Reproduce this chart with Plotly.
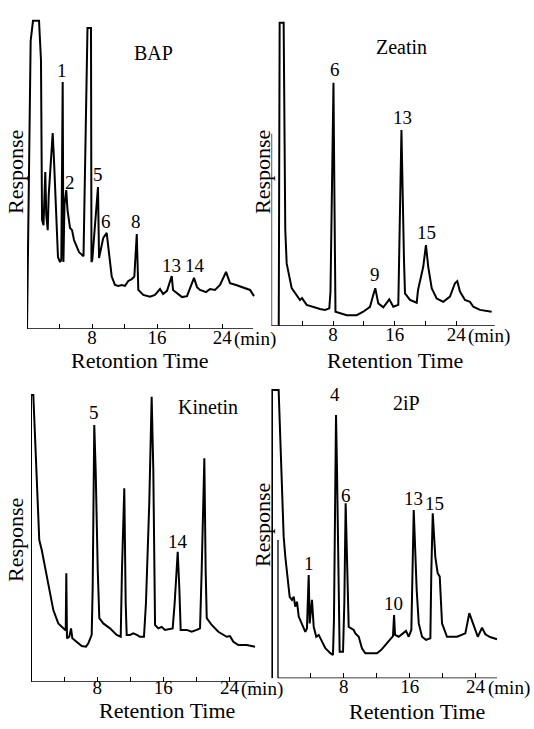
import plotly.graph_objects as go

W, H = 534, 729
FONT = "Liberation Serif"

# ---------------- data (retention time in min, response in % of panel height) -------------
bap_time = [0, 0.45, 0.74, 1.48, 1.72, 1.85, 2.03, 2.25, 2.37, 2.55,
            2.67, 2.89, 3.16, 3.32, 3.51, 3.69, 3.81, 4.06, 4.22, 4.39,
            4.48, 4.61, 4.83, 4.98, 5.29, 5.54, 5.78, 6.03, 6.4, 6.95,
            7.13, 7.44, 7.87, 7.93, 8.03, 8.36, 8.73, 8.86, 9.04, 9.38,
            9.8, 10.09, 10.42, 10.82, 11.23, 11.65, 12.05, 12.46, 12.88, 13.2,
            13.5, 13.69, 14.3, 15.13, 15.74, 16.36, 16.73, 17.22, 17.8, 17.96,
            18.45, 19.07, 19.68, 20.17, 20.54, 20.91, 21.28, 22.02, 22.51, 23.12,
            23.74, 24.48, 24.97, 25.71, 26.94, 27.43, 27.92]
bap_resp = [0, 93, 99.4, 99.4, 86.8, 35.2, 33.5, 50.6, 36.8, 31.9,
            43.2, 52.9, 63.2, 54.5, 43.2, 32.9, 23.2, 21.6, 22.3, 79.7,
            21.6, 40, 44.8, 38.4, 32.6, 31.9, 28.7, 27.1, 24.8, 23.5,
            48, 97.1, 97.1, 21.6, 22.3, 33.5, 45.8, 22.9, 25.5, 29.4,
            31, 24.5, 16.9, 14.2, 13.9, 14.2, 13.9, 15.5, 16.1, 16.9,
            30.6, 12.6, 11, 10.4, 11, 12.9, 11.3, 12.3, 17.1, 12.6,
            11.6, 10.3, 10.6, 14.2, 16.5, 13.5, 12.6, 11.9, 12.9, 12.6,
            14.2, 18.4, 14.8, 14.2, 13.2, 12.6, 10.6]

zeatin_time = [0.94, 1.06, 1.58, 1.66, 1.79, 1.97, 2.62, 3.70, 3.96, 4.57,
               5.43, 6.30, 6.95, 7.51, 7.66, 8.05, 8.18, 8.31, 9.77, 11.06,
               11.92, 12.79, 13.18, 13.48, 13.87, 14.52, 15.30, 15.82, 16.47, 16.88,
               17.21, 17.34, 17.99, 18.86, 19.03, 19.29, 19.71, 20.06, 20.36, 20.81,
               21.45, 22.31, 23.18, 23.83, 24.13, 24.48, 25.13, 25.78, 26.21, 27.08,
               28.60]
zeatin_resp = [0, 97.8, 97.8, 62.3, 31, 20.2, 12.2, 8.4, 9, 6.8,
               6.1, 5.5, 5.2, 5.7, 11, 78.5, 40, 4.6, 3.5, 3.5,
               4.6, 6.2, 9.7, 12.2, 7.3, 6, 8.6, 6.2, 6.8, 63.2,
               21.3, 10.5, 8.4, 7.5, 11.6, 14.8, 19.1, 26.1, 19.1, 12.2,
               8.9, 7.8, 9.5, 13.8, 14.5, 11.1, 8.4, 7.8, 6.2, 5.2,
               4.6]

kinetin_time = [0, 0, 0.28, 0.69, 1.0, 1.3, 1.69, 2.1, 2.7, 3.3,
                3.91, 4.2, 4.27, 4.35, 4.63, 4.84, 5.0, 5.53, 6.13, 6.65,
                6.93, 7.34, 7.46, 7.65, 7.82, 8.07, 8.26, 8.74, 9.55, 10.36,
                10.85, 11.0, 11.28, 11.45, 11.57, 11.97, 12.37, 12.8, 13.18, 13.66,
                13.9, 14.3, 14.59, 14.79, 15.0, 15.4, 15.8, 16.2, 17.13, 17.37,
                17.74, 17.93, 18.1, 18.83, 19.43, 20.04, 20.44, 20.64, 20.96, 21.12,
                21.25, 21.85, 22.65, 23.67, 24.06, 24.47, 25.07, 26.08, 27.09]
kinetin_resp = [0, 92.5, 92.5, 68.3, 45.7, 42.5, 37.1, 30.6, 23.1, 18.8,
                17.2, 16.5, 35, 14, 14.5, 17.2, 14, 12.9, 11.5, 11.3,
                12.4, 15.1, 30.6, 82.8, 68.3, 36, 20.5, 18.8, 17.2, 15.1,
                14.5, 36, 62.4, 25.3, 15.1, 15.1, 15.6, 15.1, 14.5, 14.5,
                25.3, 57.5, 91.9, 68.3, 18.3, 17.2, 17.7, 16.7, 17.2, 25.3,
                41.9, 30.6, 16.7, 16.7, 16.1, 16.7, 17.2, 36, 72.1, 36,
                20.5, 18.3, 16.1, 14.5, 14.7, 12.9, 11.8, 11.8, 11.3]

ip_time = [-0.73, -0.73, 0.08, 0.28, 0.49, 0.69, 0.89, 1.18, 1.42, 1.7,
           1.91, 2.1, 2.31, 2.52, 2.92, 3.32, 3.52, 3.73, 3.85, 4.13,
           4.34, 4.65, 4.95, 5.35, 5.75, 6.36, 6.68, 6.8, 7.05, 7.17,
           7.35, 7.49, 7.9, 8.06, 8.22, 8.38, 8.59, 9.2, 9.4, 9.81,
           10.2, 10.61, 11.18, 12.03, 12.52, 13.04, 13.65, 13.97, 14.1, 14.22,
           14.67, 15.27, 15.55, 15.88, 16.2, 16.49, 16.68, 16.85, 17.1, 17.5,
           17.98, 18.51, 18.63, 18.8, 19.11, 19.4, 19.65, 19.93, 20.53, 21.75,
           22.76, 23.24, 23.69, 24.27, 24.79, 25.19, 25.76, 26.61]
ip_resp = [0, 93, 93, 77.9, 56.5, 45.7, 39.2, 32.8, 26.3, 25.3,
           26.3, 23.1, 24.7, 19.9, 17.2, 15, 16.1, 33.3, 17.7, 25.3,
           16.6, 13.4, 14, 11.8, 9.7, 8.1, 7.5, 18.8, 84.9, 67.2,
           25.3, 8.6, 8.6, 24.2, 56.5, 34.9, 16.6, 15.6, 14.5, 13.4,
           9.7, 8.1, 8.1, 8.1, 9.1, 10.7, 12.9, 13.6, 20.4, 14,
           13.4, 14.5, 15.3, 13.4, 15.6, 54.3, 39.2, 28.5, 17.7, 13.4,
           12.4, 12.9, 34.9, 53.2, 39.2, 33.9, 32.8, 17.7, 13.4, 13.4,
           14.5, 21, 17.7, 13.4, 16.3, 14.2, 13.3, 12.6]

tick_vals = [4, 8, 12, 16, 20, 24]
tick_text = ["", "8", "", "16", "", "24"]

bap_peak_names = ["3", "1", "2", "5", "6", "8", "13", "14"]
bap_peak_time = [7.69, 4.34, 5.29, 8.77, 9.68, 13.37, 17.8, 20.66]
bap_peak_resp = [101.9, 83.5, 47.4, 49.7, 34.6, 34.6, 20.6, 20.6]

zeatin_peak_names = ["6", "9", "13", "15"]
zeatin_peak_time = [8.25, 13.44, 17.08, 20.1]
zeatin_peak_resp = [82.6, 16.5, 67.1, 30.0]

kinetin_peak_names = ["5", "14"]
kinetin_peak_time = [7.65, 17.81]
kinetin_peak_resp = [86.7, 45.2]

ip_peak_names = ["1", "4", "6", "10", "13", "15"]
ip_peak_time = [3.73, 6.89, 8.26, 14.06, 16.49, 19.04]
ip_peak_resp = [37.1, 91.4, 59.1, 24.2, 58.1, 56.5]

# ---------------- layout helpers ----------------
def fx(px):
    return px / W

def fy(py):
    return 1 - py / H

panels = [
    dict(title="BAP", title_pos=(15.5, 89), t=bap_time, r=bap_resp,
         pk=(bap_peak_names, bap_peak_time, bap_peak_resp),
         xpx=(27, 257.1), ypx=(329, 19), xr=[0, 28.3], axis_x=(0, 27.8), yline=None,
         standoff=-5, minshift=-10,
         xlabel="Retontion Time", xlab_px=(140, 360), ylab_px=(15, 172)),
    dict(title="Zeatin", title_pos=(16.95, 90), t=zeatin_time, r=zeatin_resp,
         pk=(zeatin_peak_names, zeatin_peak_time, zeatin_peak_resp),
         xpx=(271.5, 496.3), ypx=(326, 16), xr=[0, 29.2], axis_x=(0, 29.0), yline=62,
         standoff=-5, minshift=-10,
         xlabel="Retention Time", xlab_px=(395, 360), ylab_px=(262, 172)),
    dict(title="Kinetin", title_pos=(21.4, 88.6), t=kinetin_time, r=kinetin_resp,
         pk=(kinetin_peak_names, kinetin_peak_time, kinetin_peak_resp),
         xpx=(31, 257.6), ypx=(681.7, 371.7), xr=[0, 27.4], axis_x=(0, 27.1), yline=None,
         standoff=-8, minshift=-7,
         xlabel="Retention Time", xlab_px=(167, 710), ylab_px=(15, 540)),
    dict(title="2iP", title_pos=(15.67, 88.7), t=ip_time, r=ip_resp,
         pk=(ip_peak_names, ip_peak_time, ip_peak_resp),
         xpx=(271.4, 498.6), ypx=(678.3, 368.3), xr=[-0.8, 26.8], axis_x=(0, 26.6), yline=44.6,
         standoff=-5, minshift=-10,
         xlabel="Retention Time", xlab_px=(417, 711), ylab_px=(262, 525)),
]

fig = go.Figure()
annotations = []
shapes = []
layout = {}

for i, p in enumerate(panels, start=1):
    sx = "" if i == 1 else str(i)
    xa, ya = "x" + sx, "y" + sx
    fig.add_trace(go.Scatter(x=p["t"], y=p["r"], mode="lines",
                             line=dict(color="black", width=2),
                             xaxis=xa, yaxis=ya, showlegend=False,
                             hoverinfo="skip"))
    layout["xaxis" + sx] = dict(
        domain=[fx(p["xpx"][0]), fx(p["xpx"][1])], range=p["xr"], anchor=ya,
        showgrid=False, zeroline=False, showline=False,
        tickvals=tick_vals, ticktext=tick_text, ticks="inside", ticklen=5,
        tickwidth=1.3, tickcolor="black", ticklabelstandoff=p["standoff"],
        tickfont=dict(family=FONT, size=19, color="black"), fixedrange=True)
    layout["yaxis" + sx] = dict(
        domain=[fy(p["ypx"][0]), fy(p["ypx"][1])], range=[0, 100], anchor=xa,
        showgrid=False, zeroline=False, showline=False, showticklabels=False,
        ticks="", fixedrange=True)
    # x axis baseline
    shapes.append(dict(type="line", xref=xa, yref=ya, x0=p["axis_x"][0], x1=p["axis_x"][1],
                       y0=0, y1=0, line=dict(color="black", width=1.6)))
    if p["yline"] is not None:
        shapes.append(dict(type="line", xref=xa, yref=ya, x0=0, x1=0, y0=0, y1=p["yline"],
                           line=dict(color="black", width=1.3)))
    # peak labels
    names, pt, pr = p["pk"]
    for n, t, r in zip(names, pt, pr):
        annotations.append(dict(text=n, x=t, y=r, xref=xa, yref=ya, showarrow=False,
                                xanchor="center", yanchor="middle",
                                font=dict(family=FONT, size=19, color="black")))
    # panel title
    annotations.append(dict(text=p["title"], x=p["title_pos"][0], y=p["title_pos"][1],
                            xref=xa, yref=ya, showarrow=False,
                            font=dict(family=FONT, size=20, color="black")))
    # (min)
    annotations.append(dict(text="(min)", x=24, y=0, xref=xa, yref=ya, xshift=10,
                            yshift=p["minshift"],
                            xanchor="left", yanchor="middle", showarrow=False,
                            font=dict(family=FONT, size=19, color="black")))
    # axis titles
    annotations.append(dict(text=p["xlabel"], x=fx(p["xlab_px"][0]),
                            y=fy(p["xlab_px"][1]),
                            xref="paper", yref="paper", showarrow=False,
                            xanchor="center", yanchor="middle",
                            font=dict(family=FONT, size=22, color="black")))
    annotations.append(dict(text="Response", x=fx(p["ylab_px"][0]),
                            y=fy(p["ylab_px"][1]),
                            xref="paper", yref="paper", showarrow=False, textangle=-90,
                            xanchor="center", yanchor="middle",
                            font=dict(family=FONT, size=22, color="black")))

fig.update_layout(
    width=W, height=H, margin=dict(l=0, r=0, t=0, b=0),
    paper_bgcolor="white", plot_bgcolor="white",
    annotations=annotations, shapes=shapes, showlegend=False,
    **layout)

fig.write_html("out.html", config={"displayModeBar": False},
               post_script="document.body.style.margin='0';")
